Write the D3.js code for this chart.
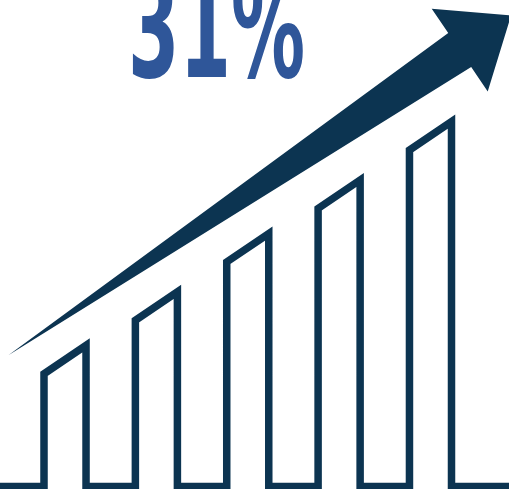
<!DOCTYPE html>
<html>
<head>
<meta charset="utf-8">
<script src="https://cdn.jsdelivr.net/npm/d3@7"></script>
<style>
  html, body { margin: 0; padding: 0; background: #fff; overflow: hidden; }
</style>
</head>
<body>
<div id="svg"></div>
<script>
// bar categories and heights (percent of the chart height)
var categories = ["1", "2", "3", "4", "5"];
var values = [29, 40, 52, 63, 75];
// trend arrow, in (bar index, value) units
var trendStart = [-0.62, 27];
var trendEnd = [4.32, 89.7];
var headline = "31%";

var W = 509, H = 489;
var navy = "#0c3451";
var blue = "#2f5699";

var svg = d3.select("div#svg")
  .append("svg")
  .attr("width", W)
  .attr("height", H);

var x = d3.scaleBand()
  .domain(categories)
  .range([44, 451.5])
  .paddingInner(0.54)
  .paddingOuter(0);

var xi = d3.scaleLinear()
  .domain([0, categories.length - 1])
  .range([x(categories[0]) + x.bandwidth() / 2, x(categories[categories.length - 1]) + x.bandwidth() / 2]);

var y = d3.scaleLinear()
  .domain([0, 100])
  .range([486.5, 0]);

// slope of the tops follows the arrow
var ax0 = xi(trendStart[0]), ay0 = y(trendStart[1]);
var ax1 = xi(trendEnd[0]), ay1 = y(trendEnd[1]);
var slope = (ay0 - ay1) / (ax1 - ax0);

// bars drawn as one outline path along the baseline
var path = d3.path();
path.moveTo(-10, y(0));
values.forEach(function (v, i) {
  var l = x(categories[i]), r = l + x.bandwidth();
  var top = y(v);
  path.lineTo(l, y(0));
  path.lineTo(l, top + slope * x.bandwidth());
  path.lineTo(r, top);
  path.lineTo(r, y(0));
});
path.lineTo(W + 10, y(0));

svg.append("path")
  .attr("d", path.toString())
  .attr("fill", "none")
  .attr("stroke", navy)
  .attr("stroke-width", 7.5)
  .attr("stroke-linejoin", "miter");

// arrow
var dx = ax1 - ax0, dy = ay1 - ay0;
var len = Math.sqrt(dx * dx + dy * dy);
var ux = dx / len, uy = dy / len;
var nx = -uy, ny = ux;
var shaftHalf = 20.5, headHalf = 50, headLen = 62;
var pts = [
  [ax0, ay0],
  [ax1 + nx * shaftHalf, ay1 + ny * shaftHalf],
  [ax1 + nx * headHalf, ay1 + ny * headHalf],
  [ax1 + ux * headLen, ay1 + uy * headLen],
  [ax1 - nx * headHalf, ay1 - ny * headHalf],
  [ax1 - nx * shaftHalf, ay1 - ny * shaftHalf]
];
svg.append("polygon")
  .attr("points", pts.map(function (p) { return p.join(","); }).join(" "))
  .attr("fill", navy);

// headline, cropped at the top edge like the original
svg.append("text")
  .text(headline)
  .attr("x", 128)
  .attr("y", 77)
  .attr("textLength", 177)
  .attr("lengthAdjust", "spacingAndGlyphs")
  .attr("font-family", "DejaVu Sans Condensed, DejaVu Sans")
  .attr("font-weight", "bold")
  .attr("font-size", "140px")
  .attr("fill", blue);
</script>
</body>
</html>
